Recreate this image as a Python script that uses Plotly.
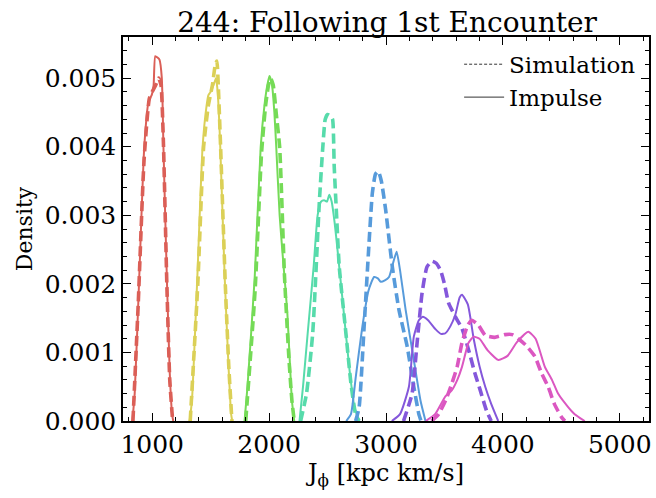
import plotly.graph_objects as go

# ---------------- data ----------------
colors = ["#db5f57", "#dbd057", "#75db57", "#57dbab", "#579bdb", "#8457db", "#db57c1"]

red_imp_x = [830, 850, 889, 932, 969, 997, 1012, 1026, 1045, 1062, 1082, 1096, 1125, 1150, 1170, 1180]
red_imp_y = [0, 0.0004, 0.0021, 0.0040, 0.00466, 0.00476, 0.0049, 0.00532, 0.0053, 0.00527, 0.0050, 0.0040, 0.0021, 0.0007, 0.0001, 0]
red_sim_x = [835, 880, 930, 975, 1000, 1030, 1055, 1075, 1095, 1125, 1150, 1175]
red_sim_y = [0, 0.0017, 0.0038, 0.0047, 0.0048, 0.0049, 0.0050, 0.0049, 0.0041, 0.0020, 0.0006, 0]

yel_imp_x = [1320, 1340, 1386, 1431, 1465, 1480, 1500, 1525, 1545, 1560, 1580, 1620, 1650, 1675, 1685]
yel_imp_y = [0, 0.0003, 0.0021, 0.0040, 0.0046, 0.00475, 0.0048, 0.0049, 0.0050, 0.0048, 0.0041, 0.0021, 0.0009, 0.0001, 0]
yel_sim_x = [1325, 1390, 1440, 1480, 1515, 1540, 1553, 1565, 1585, 1625, 1655, 1682]
yel_sim_y = [0, 0.0020, 0.0040, 0.0046, 0.0049, 0.0052, 0.00525, 0.0049, 0.0040, 0.0020, 0.0008, 0]

grn_imp_x = [1790, 1815, 1877, 1928, 1960, 1985, 2003, 2025, 2045, 2061, 2090, 2117, 2155, 2195, 2215]
grn_imp_y = [0, 0.0005, 0.0021, 0.0040, 0.0046, 0.0049, 0.00503, 0.0049, 0.0045, 0.0040, 0.0030, 0.0024, 0.0016, 0.0003, 0]
grn_sim_x = [1800, 1880, 1935, 1970, 1995, 2013, 2035, 2060, 2090, 2132, 2170, 2195, 2215]
grn_sim_y = [0, 0.0019, 0.0039, 0.0046, 0.0049, 0.0050, 0.0049, 0.0045, 0.0040, 0.0021, 0.0009, 0.0003, 0]

teal_imp_x = [2260, 2290, 2330, 2381, 2415, 2444, 2470, 2495, 2515, 2535, 2560, 2585, 2628, 2685, 2730, 2770]
teal_imp_y = [0, 0.0005, 0.00128, 0.00225, 0.0030, 0.0032, 0.00322, 0.0032, 0.0033, 0.0032, 0.0029, 0.0025, 0.00177, 0.00079, 0.0002, 0]
teal_sim_x = [2270, 2320, 2373, 2430, 2458, 2480, 2500, 2525, 2543, 2557, 2580, 2600, 2657, 2700, 2740, 2770]
teal_sim_y = [0, 0.0004, 0.00128, 0.0032, 0.00396, 0.0044, 0.00447, 0.00445, 0.0044, 0.00371, 0.0029, 0.00225, 0.00128, 0.00055, 0.0001, 0]

blue_imp_x = [2660, 2700, 2742, 2798, 2850, 2898, 2930, 2955, 2990, 3026, 3060, 3091, 3120, 3168, 3238, 3295, 3338]
blue_imp_y = [0, 0.0001, 0.00065, 0.00138, 0.0019, 0.0021, 0.00208, 0.00203, 0.00205, 0.0021, 0.0023, 0.00247, 0.0022, 0.00162, 0.00089, 0.0003, 0]
blue_sim_x = [2740, 2770, 2813, 2855, 2883, 2910, 2934, 2960, 2997, 3054, 3111, 3182, 3238, 3281, 3300]
blue_sim_y = [0, 0.0002, 0.00138, 0.0026, 0.00332, 0.0036, 0.00364, 0.0035, 0.00308, 0.00225, 0.00162, 0.00108, 0.0005, 0.0001, 0]

purp_imp_x = [3050, 3120, 3196, 3238, 3281, 3315, 3360, 3423, 3470, 3508, 3550, 3593, 3630, 3650, 3700, 3750, 3800, 3849, 3900, 3960]
purp_imp_y = [0, 0.0001, 0.0005, 0.00123, 0.00147, 0.00152, 0.00147, 0.00134, 0.00127, 0.00128, 0.00138, 0.00155, 0.0018, 0.00184, 0.0017, 0.0012, 0.0008, 0.0005, 0.00025, 0]
purp_sim_x = [3150, 3223, 3266, 3309, 3351, 3394, 3430, 3466, 3500, 3536, 3600, 3650, 3706, 3760, 3806, 3860, 3900]
purp_sim_y = [0, 0.0004, 0.00114, 0.00187, 0.00225, 0.00233, 0.0023, 0.0022, 0.0020, 0.00172, 0.0015, 0.00135, 0.00104, 0.0007, 0.00045, 0.00015, 0]

mag_imp_x = [3340, 3420, 3508, 3564, 3610, 3650, 3706, 3749, 3800, 3870, 3962, 4040, 4120, 4217, 4280, 4359, 4420, 4472, 4560, 4614, 4700]
mag_imp_y = [0, 0.0001, 0.00036, 0.00045, 0.0006, 0.00079, 0.00114, 0.00123, 0.0012, 0.00103, 0.00089, 0.00095, 0.00115, 0.0013, 0.0012, 0.00079, 0.0006, 0.0004, 0.0002, 0.0001, 0]
mag_sim_x = [3390, 3450, 3510, 3564, 3610, 3650, 3700, 3734, 3790, 3849, 3930, 4019, 4080, 4132, 4200, 4274, 4330, 4387, 4440, 4500, 4530]
mag_sim_y = [0, 0.0001, 0.0003, 0.00055, 0.0008, 0.00114, 0.0014, 0.00147, 0.0014, 0.00125, 0.00122, 0.00126, 0.00126, 0.0012, 0.0011, 0.00094, 0.0007, 0.0005, 0.00025, 0.00006, 0]

groups = [
    (red_sim_x, red_sim_y, red_imp_x, red_imp_y),
    (yel_sim_x, yel_sim_y, yel_imp_x, yel_imp_y),
    (grn_sim_x, grn_sim_y, grn_imp_x, grn_imp_y),
    (teal_sim_x, teal_sim_y, teal_imp_x, teal_imp_y),
    (blue_sim_x, blue_sim_y, blue_imp_x, blue_imp_y),
    (purp_sim_x, purp_sim_y, purp_imp_x, purp_imp_y),
    (mag_sim_x, mag_sim_y, mag_imp_x, mag_imp_y),
]

title_text = "244: Following 1st Encounter"
x_label = "J<sub>ϕ</sub> [kpc km/s]"
y_label = "Density"
legend_labels = ["Simulation", "Impulse"]

# ---------------- figure ----------------
FONT = "DejaVu Serif"
fig = go.Figure()

for (sx, sy, ix, iy), c in zip(groups, colors):
    fig.add_trace(go.Scatter(x=sx, y=sy, mode="lines", showlegend=False,
                             line=dict(color=c, width=3.6, dash="10px,5px", shape="spline", smoothing=0.5)))
    fig.add_trace(go.Scatter(x=ix, y=iy, mode="lines", showlegend=False,
                             line=dict(color=c, width=2, shape="spline", smoothing=0.5)))

fig.add_trace(go.Scatter(x=[None], y=[None], mode="lines", name=legend_labels[0],
                         line=dict(color="#333333", width=1, dash="3px,2px")))
fig.add_trace(go.Scatter(x=[None], y=[None], mode="lines", name=legend_labels[1],
                         line=dict(color="#333333", width=1)))

axis_common = dict(
    showline=True, linecolor="black", linewidth=1.5, mirror="allticks",
    ticks="inside", ticklen=8, tickwidth=1.2, tickcolor="black",
    showgrid=False, zeroline=False,
    tickfont=dict(family=FONT, size=25, color="black"),
)

fig.update_xaxes(range=[750, 5250], dtick=1000, tick0=0,
                 minor=dict(dtick=200, tick0=0, ticks="inside", ticklen=4, tickcolor="black", tickwidth=1),
                 title=dict(text=x_label, font=dict(family=FONT, size=24, color="black"), standoff=4),
                 **axis_common)
fig.update_yaxes(range=[0, 0.0056], dtick=0.001, tick0=0, tickformat=".3f",
                 minor=dict(dtick=0.0002, tick0=0, ticks="inside", ticklen=4, tickcolor="black", tickwidth=1),
                 title=dict(text=y_label, font=dict(family=FONT, size=22, color="black"), standoff=6),
                 **axis_common)

fig.update_layout(
    width=656, height=498,
    margin=dict(l=123, r=5, t=37, b=77),
    plot_bgcolor="white", paper_bgcolor="white",
    title=dict(text=title_text, x=0.59, xanchor="center", y=0.975, yanchor="top",
               font=dict(family=FONT, size=28, color="black")),
    legend=dict(x=0.985, xanchor="right", y=0.985, yanchor="top", bgcolor="rgba(0,0,0,0)",
                font=dict(family=FONT, size=23, color="black"), itemwidth=40, tracegroupgap=0),
    font=dict(family=FONT),
)

fig.write_html("out.html")
